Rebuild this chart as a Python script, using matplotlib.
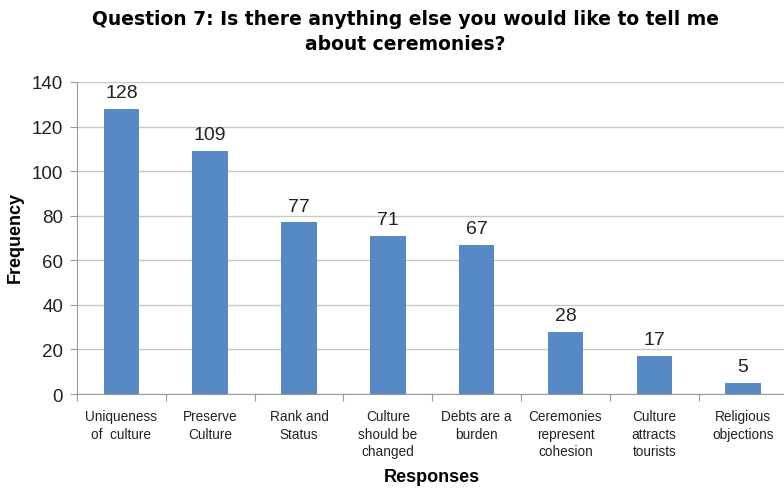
import matplotlib
matplotlib.use("Agg")
import matplotlib.pyplot as plt

categories = ["Uniqueness\nof  culture", "Preserve\nCulture", "Rank and\nStatus",
              "Culture\nshould be\nchanged", "Debts are a\nburden", "Ceremonies\nrepresent\ncohesion",
              "Culture\nattracts\ntourists", "Religious\nobjections"]
values = [128, 109, 77, 71, 67, 28, 17, 5]
yticks = [0, 20, 40, 60, 80, 100, 120, 140]

plt.rcParams['font.family'] = ['Liberation Sans', 'DejaVu Sans']

W, H = 784, 489
fig = plt.figure(figsize=(W/100, H/100), dpi=100)
left, right, top, bottom = 77.0, 787.5, 83.0, 395.0
ax = fig.add_axes([left/W, 1 - bottom/H, (right-left)/W, (bottom-top)/H])

x = list(range(len(values)))
ax.bar(x, values, width=0.4, color='#5789c5', zorder=3)
for xi, v in zip(x, values):
    ax.text(xi, v + 3.5, str(v), ha='center', va='bottom', fontsize=14, color='#222222')

ax.set_xlim(-0.5, len(values) - 0.5)
ax.set_ylim(0, 140)
ax.set_yticks(yticks)
ax.set_yticklabels([str(t) for t in yticks], fontsize=13.5, color='#222222')
ax.yaxis.grid(True, color='#c8c8c8', linewidth=1, zorder=0)
ax.set_axisbelow(True)

ax.set_xticks([i - 0.5 for i in range(len(values) + 1)])
ax.set_xticklabels([])
ax.set_xticks(x, minor=True)
ax.set_xticklabels(categories, minor=True, fontsize=9.8, color='#222222', linespacing=1.3)
ax.tick_params(axis='x', which='minor', length=0, pad=11)
ax.tick_params(axis='x', which='major', length=5, color='#999999')
ax.tick_params(axis='y', length=5, color='#999999', pad=5)

for s in ['top', 'right']:
    ax.spines[s].set_visible(False)
for s in ['left', 'bottom']:
    ax.spines[s].set_color('#999999')

fig.text(15/W, 1 - 238/H, "Frequency", rotation=90, ha='center', va='center',
         fontsize=13, fontweight='bold')
fig.text(432/W, 1 - 478/H, "Responses", ha='center', va='center',
         fontsize=13, fontweight='bold')
fig.text(405/W, 1 - 32/H, "Question 7: Is there anything else you would like to tell me\nabout ceremonies?",
         ha='center', va='center', fontsize=13.5, fontweight='bold', linespacing=1.45,
         family=['DejaVu Sans'])

fig.savefig("out.png", dpi=100)
